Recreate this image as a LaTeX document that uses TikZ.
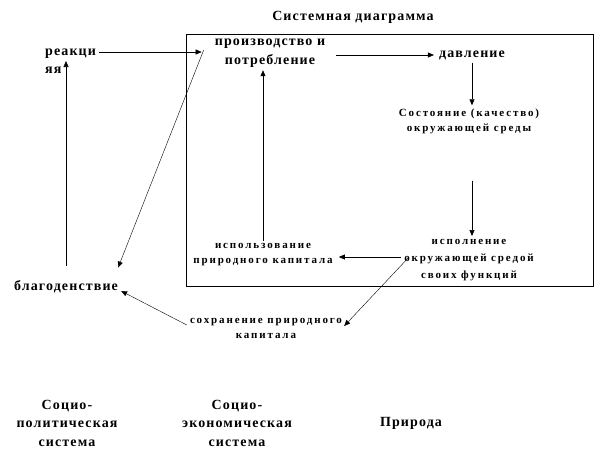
\documentclass[tikz,border=0pt]{standalone}
\usepackage{fontspec}
\setmainfont{Liberation Serif}
\usepackage{tikz}
\usetikzlibrary{arrows.meta,positioning,calc}

\newfontfamily\bigfont[LetterSpace=8]{Liberation Serif}
\newfontfamily\smallfont[LetterSpace=17]{Liberation Serif}

\begin{document}
\begin{tikzpicture}[
  x=1pt, y=-1pt,
  big/.style={font=\bigfont\fontsize{14}{18.5}\selectfont\bfseries, align=center, inner sep=3pt},
  small/.style={font=\smallfont\fontsize{11}{15}\selectfont\bfseries, align=center, inner sep=3pt},
  frame/.style={draw, line width=0.8pt},
  link/.style={-{Triangle[length=6pt,width=5pt]}, line width=0.6pt},
  thin/.style={-{Triangle[length=6pt,width=5pt]}, line width=0.4pt}
]
\useasboundingbox (0,0) rectangle (595,467);

\node[big] (title) at (353,17) {Системная диаграмма};
\draw[frame] (186,34) rectangle (593,286);

\node[big, align=left, anchor=west] (react) at (42,61) {реакци\\яя};
\node[big] (prod)    at (270,53)  {производство и\\потребление};
\node[big] (press)   at (472,55)  {давление};
\node[small] (state) at (469,121) {Состояние (качество)\\окружающей среды};
\node[small, font=\smallfont\fontsize{11}{17}\selectfont\bfseries] (func) at (469,260) {исполнение\\окружающей средой\\своих функций};
\node[small] (use)   at (263,255) {использование\\природного капитала};
\node[big] (welfare) at (66,287)  {благоденствие};
\node[small] (save)  at (266,328) {сохранение природного\\капитала};

\node[big] (sp)  at (67,423)  {Социо-\\политическая\\система};
\node[big] (se)  at (237,423) {Социо-\\экономическая\\система};
\node[big] (nat) at (411,423) {Природа};

\draw[link] ([yshift=9pt]react.east) -- ([yshift=1pt,xshift=-10pt]prod.west);
\draw[link] ([xshift=8pt,yshift=-2pt]prod.east) -- ([xshift=-2pt]press.west);
\draw[link] (press.south) -- (state.north -| press.south);
\draw[link, shorten <=44pt] (state.south -| press.south) -- (func.north -| press.south);
\draw[link] ([yshift=3pt]func.west) -- ([xshift=3pt,yshift=-2pt]use.east);
\draw[link] (use.north) -- (prod.south -| use.north);
\draw[link] ([yshift=12pt]welfare.north) -- (welfare.north |- react.east);
\draw[thin] ([xshift=-8pt,yshift=3pt]prod.west) -- ([yshift=10pt,xshift=-3pt]welfare.north east);
\draw[thin] ([yshift=3pt]save.west) -- ([yshift=-4pt]welfare.east);
\draw[thin] ([xshift=8pt,yshift=3pt]func.west) -- ([xshift=-1pt,yshift=2pt]save.east);
\end{tikzpicture}
\end{document}
